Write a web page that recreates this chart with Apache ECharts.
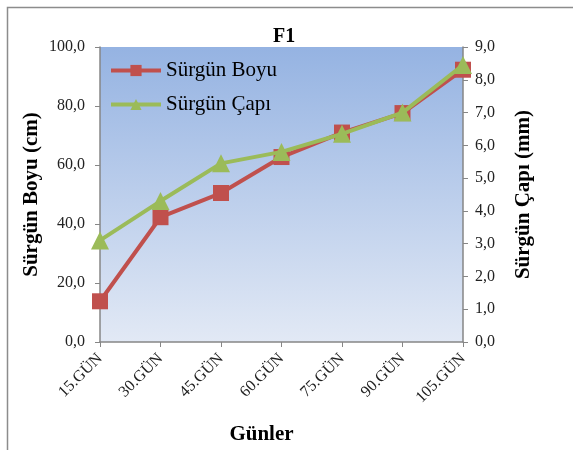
<!DOCTYPE html>
<html><head><meta charset="utf-8">
<script src="https://cdn.jsdelivr.net/npm/echarts@6/dist/echarts.min.js"></script>
<style>html,body{margin:0;padding:0;background:#fff}#c{width:573px;height:450px}</style>
</head><body><div id="c"></div>
<script>
const categories = ['15.GÜN','30.GÜN','45.GÜN','60.GÜN','75.GÜN','90.GÜN','105.GÜN'];
const boyu = [13.8, 42.3, 50.5, 62.7, 71.0, 77.6, 92.3];
const capi = [3.1, 4.3, 5.45, 5.8, 6.35, 7.0, 8.45];
const leftTicks = {min:0, max:100, interval:20};
const rightTicks = {min:0, max:9, interval:1};

const fmt = v => v.toFixed(1).replace('.', ',');
const serif = 'Liberation Serif';
const nameStyle = {fontFamily:serif, fontSize:21, fontWeight:'bold', color:'#000'};
const chart = echarts.init(document.getElementById('c'));
chart.setOption({
  animation:false,
  graphic:[{type:'polyline', shape:{points:[[7.5,460],[7.5,7.5],[580,7.5]]}, style:{stroke:'#8c8c8c', lineWidth:1.5, fill:null}, z:-1}],
  title:{text:'F1', left:268, top:22, textStyle:{fontFamily:serif, fontSize:20, fontWeight:'bold', color:'#000'}},
  grid:{left:100, right:110, top:47, bottom:106,
    show:true, borderWidth:0,
    backgroundColor:new echarts.graphic.LinearGradient(0,0,0,1,[{offset:0,color:'#95b3e2'},{offset:1,color:'#e2e9f5'}])},
  legend:{orient:'vertical', left:109, top:60, padding:0, itemWidth:50, itemHeight:14, itemGap:13,
    lineStyle:{width:4},
    textStyle:{fontFamily:serif, fontSize:21, color:'#000'},
    data:['Sürgün Boyu','Sürgün Çapı']},
  xAxis:{type:'category', data:categories, boundaryGap:false,
    name:'Günler', nameLocation:'middle', nameGap:82, nameMoveOverlap:false,
    nameTextStyle:Object.assign({padding:[0,40,0,0]}, nameStyle),
    axisLine:{lineStyle:{color:'#868686', width:1.5}},
    axisTick:{show:true, alignWithLabel:true, length:5, lineStyle:{color:'#868686'}},
    axisLabel:{rotate:45, fontFamily:serif, fontSize:16, color:'#222', margin:14}},
  yAxis:[
    {type:'value', min:leftTicks.min, max:leftTicks.max, interval:leftTicks.interval, position:'left',
     name:'Sürgün Boyu (cm)', nameLocation:'middle', nameRotate:90, nameGap:58, nameMoveOverlap:false,
     nameTextStyle:nameStyle,
     splitLine:{show:false},
     axisLine:{show:true, lineStyle:{color:'#868686', width:1.5}},
     axisTick:{show:true, length:5, lineStyle:{color:'#868686'}},
     axisLabel:{formatter:fmt, fontFamily:serif, fontSize:16, color:'#222', margin:15}},
    {type:'value', min:rightTicks.min, max:rightTicks.max, interval:rightTicks.interval, position:'right',
     name:'Sürgün Çapı (mm)', nameLocation:'middle', nameRotate:90, nameGap:50, nameMoveOverlap:false,
     nameTextStyle:nameStyle,
     splitLine:{show:false},
     axisLine:{show:true, lineStyle:{color:'#868686', width:1.5}},
     axisTick:{show:true, length:5, lineStyle:{color:'#868686'}},
     axisLabel:{formatter:fmt, fontFamily:serif, fontSize:16, color:'#222', margin:12}}
  ],
  series:[
    {name:'Sürgün Boyu', type:'line', yAxisIndex:0, data:boyu, symbol:'rect', symbolSize:16,
     lineStyle:{color:'#c0504d', width:4}, itemStyle:{color:'#c0504d'}, z:2},
    {name:'Sürgün Çapı', type:'line', yAxisIndex:1, data:capi, symbol:'triangle', symbolSize:18,
     lineStyle:{color:'#9bbb59', width:4}, itemStyle:{color:'#9bbb59'}, z:3}
  ]
});
</script></body></html>
